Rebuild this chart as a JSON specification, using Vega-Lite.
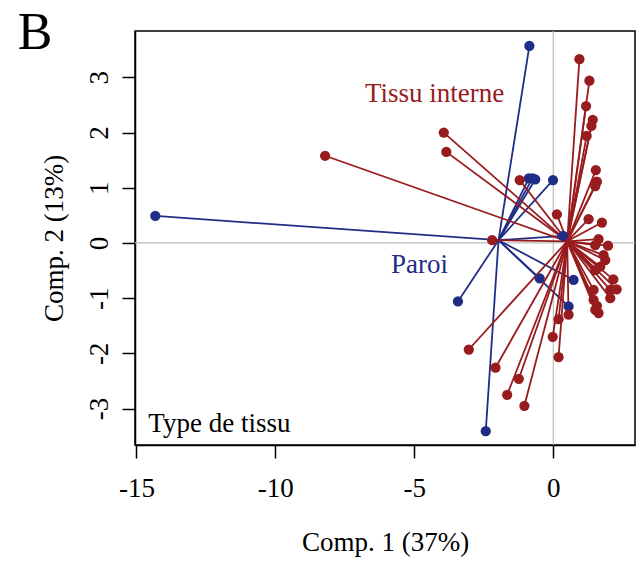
{
  "$schema": "https://vega.github.io/schema/vega-lite/v6.json",
  "width": 500,
  "height": 414,
  "autosize": "none",
  "padding": {"left": 135, "top": 31, "right": 2, "bottom": 117},
  "background": "white",
  "config": {
    "view": {"stroke": "black", "strokeWidth": 1.5},
    "axis": {"grid": false, "labelFont": "Liberation Serif", "titleFont": "Liberation Serif", "labelFontSize": 27, "titleFontSize": 27, "titleFontWeight": "normal", "labelColor": "black", "titleColor": "black", "domainColor": "black", "tickColor": "black", "domainWidth": 1.5, "tickWidth": 1.5, "tickSize": 13, "labelExpr": "toString(datum.value)"}
  },
  "datasets": {
    "pts": [
      {"group": "Paroi", "x": -14.32, "y": 0.49, "cx": -1.97, "cy": 0.05},
      {"group": "Paroi", "x": -0.86, "y": 3.57, "cx": -1.97, "cy": 0.05},
      {"group": "Paroi", "x": -3.43, "y": -1.06, "cx": -1.97, "cy": 0.05},
      {"group": "Paroi", "x": -2.43, "y": -3.41, "cx": -1.97, "cy": 0.05},
      {"group": "Paroi", "x": -0.49, "y": -0.64, "cx": -1.97, "cy": 0.05},
      {"group": "Paroi", "x": 0.73, "y": -0.67, "cx": -1.97, "cy": 0.05},
      {"group": "Paroi", "x": 0.55, "y": -1.15, "cx": -1.97, "cy": 0.05},
      {"group": "Paroi", "x": -0.01, "y": 1.14, "cx": -1.97, "cy": 0.05},
      {"group": "Paroi", "x": -0.88, "y": 1.17, "cx": -1.97, "cy": 0.05},
      {"group": "Paroi", "x": -0.75, "y": 1.17, "cx": -1.97, "cy": 0.05},
      {"group": "Paroi", "x": -0.65, "y": 1.15, "cx": -1.97, "cy": 0.05},
      {"group": "Paroi", "x": 0.35, "y": 0.13, "cx": -1.97, "cy": 0.05},
      {"group": "Tissu interne", "x": -8.21, "y": 1.58, "cx": 0.5, "cy": 0.03},
      {"group": "Tissu interne", "x": -3.94, "y": 2.0, "cx": 0.5, "cy": 0.03},
      {"group": "Tissu interne", "x": -3.85, "y": 1.65, "cx": 0.5, "cy": 0.03},
      {"group": "Tissu interne", "x": -1.21, "y": 1.14, "cx": 0.5, "cy": 0.03},
      {"group": "Tissu interne", "x": -2.2, "y": 0.05, "cx": 0.5, "cy": 0.03},
      {"group": "Tissu interne", "x": 0.13, "y": 0.52, "cx": 0.5, "cy": 0.03},
      {"group": "Tissu interne", "x": 0.94, "y": 3.33, "cx": 0.5, "cy": 0.03},
      {"group": "Tissu interne", "x": 1.3, "y": 2.94, "cx": 0.5, "cy": 0.03},
      {"group": "Tissu interne", "x": 1.18, "y": 2.48, "cx": 0.5, "cy": 0.03},
      {"group": "Tissu interne", "x": 1.42, "y": 2.23, "cx": 0.5, "cy": 0.03},
      {"group": "Tissu interne", "x": 1.37, "y": 2.12, "cx": 0.5, "cy": 0.03},
      {"group": "Tissu interne", "x": 1.2, "y": 1.94, "cx": 0.5, "cy": 0.03},
      {"group": "Tissu interne", "x": 1.53, "y": 1.32, "cx": 0.5, "cy": 0.03},
      {"group": "Tissu interne", "x": 1.57, "y": 1.11, "cx": 0.5, "cy": 0.03},
      {"group": "Tissu interne", "x": 1.51, "y": 1.03, "cx": 0.5, "cy": 0.03},
      {"group": "Tissu interne", "x": 1.27, "y": 0.43, "cx": 0.5, "cy": 0.03},
      {"group": "Tissu interne", "x": 1.75, "y": 0.37, "cx": 0.5, "cy": 0.03},
      {"group": "Tissu interne", "x": 1.63, "y": 0.07, "cx": 0.5, "cy": 0.03},
      {"group": "Tissu interne", "x": 1.97, "y": -0.05, "cx": 0.5, "cy": 0.03},
      {"group": "Tissu interne", "x": 1.51, "y": -0.04, "cx": 0.5, "cy": 0.03},
      {"group": "Tissu interne", "x": 1.81, "y": -0.22, "cx": 0.5, "cy": 0.03},
      {"group": "Tissu interne", "x": 1.87, "y": -0.31, "cx": 0.5, "cy": 0.03},
      {"group": "Tissu interne", "x": 1.69, "y": -0.43, "cx": 0.5, "cy": 0.03},
      {"group": "Tissu interne", "x": 1.51, "y": -0.49, "cx": 0.5, "cy": 0.03},
      {"group": "Tissu interne", "x": 2.16, "y": -0.66, "cx": 0.5, "cy": 0.03},
      {"group": "Tissu interne", "x": 2.28, "y": -0.84, "cx": 0.5, "cy": 0.03},
      {"group": "Tissu interne", "x": 2.05, "y": -0.85, "cx": 0.5, "cy": 0.03},
      {"group": "Tissu interne", "x": 2.05, "y": -1.0, "cx": 0.5, "cy": 0.03},
      {"group": "Tissu interne", "x": 1.45, "y": -0.85, "cx": 0.5, "cy": 0.03},
      {"group": "Tissu interne", "x": 1.45, "y": -1.03, "cx": 0.5, "cy": 0.03},
      {"group": "Tissu interne", "x": 1.57, "y": -1.14, "cx": 0.5, "cy": 0.03},
      {"group": "Tissu interne", "x": 1.63, "y": -1.27, "cx": 0.5, "cy": 0.03},
      {"group": "Tissu interne", "x": 1.51, "y": -1.21, "cx": 0.5, "cy": 0.03},
      {"group": "Tissu interne", "x": -3.04, "y": -1.93, "cx": 0.5, "cy": 0.03},
      {"group": "Tissu interne", "x": -2.08, "y": -2.26, "cx": 0.5, "cy": 0.03},
      {"group": "Tissu interne", "x": -1.24, "y": -2.46, "cx": 0.5, "cy": 0.03},
      {"group": "Tissu interne", "x": -1.66, "y": -2.75, "cx": 0.5, "cy": 0.03},
      {"group": "Tissu interne", "x": -1.04, "y": -2.95, "cx": 0.5, "cy": 0.03},
      {"group": "Tissu interne", "x": 0.19, "y": -2.07, "cx": 0.5, "cy": 0.03},
      {"group": "Tissu interne", "x": -0.02, "y": -1.7, "cx": 0.5, "cy": 0.03},
      {"group": "Tissu interne", "x": 0.19, "y": -1.38, "cx": 0.5, "cy": 0.03},
      {"group": "Tissu interne", "x": 0.55, "y": -1.3, "cx": 0.5, "cy": 0.03}
    ],
    "labels": [
      {"group": "Tissu interne", "x": -4.27, "y": 2.56, "label": "Tissu interne"},
      {"group": "Paroi", "x": -4.81, "y": -0.54, "label": "Paroi"}
    ],
    "corner": [
      {"x": -14.57, "y": -3.42, "label": "Type de tissu"}
    ],
    "panel": [
      {"x": -19.27, "y": 3.51, "label": "B"}
    ]
  },
  "layer": [
    {
      "data": {"values": [{"v": 0}]},
      "mark": {"type": "rule", "color": "#bdbdbd", "strokeWidth": 1.2},
      "encoding": {"x": {"field": "v", "type": "quantitative", "scale": {"domain": [-15.05, 2.94], "nice": false, "zero": false}}}
    },
    {
      "data": {"values": [{"v": 0}]},
      "mark": {"type": "rule", "color": "#bdbdbd", "strokeWidth": 1.2},
      "encoding": {"y": {"field": "v", "type": "quantitative", "scale": {"domain": [-3.66, 3.84], "nice": false, "zero": false}}}
    },
    {
      "data": {"name": "pts"},
      "mark": {"type": "rule", "strokeWidth": 1.8},
      "encoding": {
        "x": {"field": "cx", "type": "quantitative"},
        "y": {"field": "cy", "type": "quantitative"},
        "x2": {"field": "x"},
        "y2": {"field": "y"},
        "color": {"field": "group", "type": "nominal", "scale": {"domain": ["Paroi", "Tissu interne"], "range": ["#1f2d85", "#981b1e"]}, "legend": null}
      }
    },
    {
      "data": {"name": "pts"},
      "mark": {"type": "circle", "size": 105, "opacity": 1},
      "encoding": {
        "x": {"field": "x", "type": "quantitative"},
        "y": {"field": "y", "type": "quantitative"},
        "color": {"field": "group", "type": "nominal", "legend": null}
      }
    },
    {
      "data": {"name": "labels"},
      "mark": {"type": "text", "font": "Liberation Serif", "fontSize": 27, "align": "center", "baseline": "alphabetic"},
      "encoding": {
        "x": {"field": "x", "type": "quantitative"},
        "y": {"field": "y", "type": "quantitative"},
        "text": {"field": "label"},
        "color": {"field": "group", "type": "nominal", "legend": null}
      }
    },
    {
      "data": {"name": "panel"},
      "mark": {"type": "text", "font": "Liberation Serif", "fontSize": 52, "align": "left", "baseline": "alphabetic", "color": "black", "clip": false},
      "encoding": {
        "x": {"field": "x", "type": "quantitative"},
        "y": {"field": "y", "type": "quantitative"},
        "text": {"field": "label"}
      }
    },
    {
      "data": {"name": "corner"},
      "mark": {"type": "text", "font": "Liberation Serif", "fontSize": 27, "align": "left", "baseline": "alphabetic", "color": "black"},
      "encoding": {
        "x": {"field": "x", "type": "quantitative", "axis": {"title": "Comp. 1 (37%)", "values": [-15, -10, -5, 0], "labelPadding": 17, "titlePadding": 28}},
        "y": {"field": "y", "type": "quantitative", "axis": {"title": "Comp. 2 (13%)", "values": [-3, -2, -1, 0, 1, 2, 3], "labelAngle": -90, "labelAlign": "center", "labelBaseline": "alphabetic", "labelPadding": 15, "titlePadding": 17}},
        "text": {"field": "label"}
      }
    }
  ]
}
